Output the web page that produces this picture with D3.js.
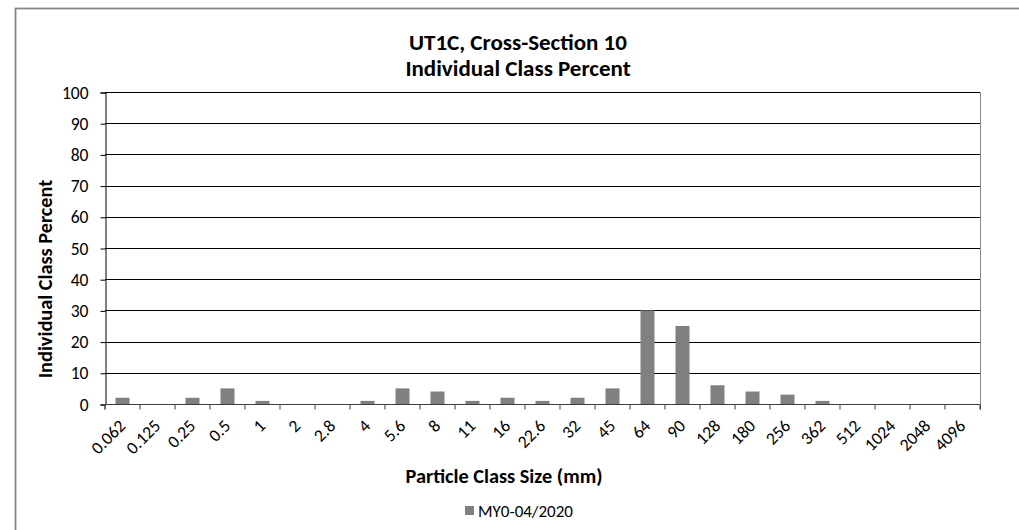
<!DOCTYPE html>
<html><head><meta charset="utf-8">
<script src="https://cdn.jsdelivr.net/npm/d3@7"></script>
<style>
html,body{margin:0;padding:0;background:#fff;}
svg text{font-family:Carlito,Calibri,Lato,"Liberation Sans",sans-serif;fill:#000;}
</style></head><body>
<svg id="c" width="1019" height="530"></svg>
<script>
const categories = ["0.062","0.125","0.25","0.5","1","2","2.8","4","5.6","8","11","16","22.6","32","45","64","90","128","180","256","362","512","1024","2048","4096"];
const values = [2,0,2,5,1,0,0,1,5,4,1,2,1,2,5,30,25,6,4,3,1,0,0,0,0];
const yTicks = [0,10,20,30,40,50,60,70,80,90,100];
const seriesName = "MY0-04/2020";
const titleLines = ["UT1C, Cross-Section 10","Individual Class Percent"];
const xTitle = "Particle Class Size (mm)";
const yTitle = "Individual Class Percent";

const svg = d3.select("#c");
const m = {left:105, right:980, top:92, bottom:404};
const FONT = "Carlito,Calibri,Lato,sans-serif";

// chart border
svg.append("rect").attr("x",15.5).attr("y",8.5).attr("width",1100).attr("height",600)
  .attr("fill","#fff").attr("stroke","#868686").attr("stroke-width",1.8);

const x = d3.scaleBand().domain(categories).range([m.left,m.right]).paddingInner(0.6).paddingOuter(0.3);
const xb = d3.scaleBand().domain(categories).range([m.left,m.right]);
const y = d3.scaleLinear().domain([0,100]).range([m.bottom,m.top]);

// gridlines
svg.append("g").selectAll("line").data(yTicks.filter(d=>d>0)).join("line")
  .attr("x1",m.left).attr("x2",m.right)
  .attr("y1",d=>Math.round(y(d))+0.5).attr("y2",d=>Math.round(y(d))+0.5)
  .attr("stroke","#000").attr("stroke-width",1);

// right plot border
svg.append("line").attr("x1",m.right+0.5).attr("x2",m.right+0.5).attr("y1",m.top).attr("y2",m.bottom)
  .attr("stroke","#868686");

// bars
svg.append("g").selectAll("rect").data(values).join("rect")
  .attr("x",(d,i)=>x(categories[i]))
  .attr("width",x.bandwidth())
  .attr("y",d=>y(d))
  .attr("height",d=>y(0)-y(d))
  .attr("fill","#808080");

// y axis
const ya = svg.append("g").attr("transform",`translate(${m.left+0.5},0.5)`)
  .call(d3.axisLeft(y).tickValues(yTicks).tickSize(5).tickPadding(12).tickFormat(d3.format("d")));
ya.select(".domain").attr("stroke","#000");
ya.selectAll(".tick line").attr("stroke","#000");
ya.selectAll(".tick text").attr("font-size",17.5).attr("font-family",FONT);

// x axis
const xa = svg.append("g").attr("transform",`translate(0,${Math.round(y(0))+0.5})`)
  .call(d3.axisBottom(xb).tickSize(5).tickFormat(""));
xa.select(".domain").attr("stroke","#404040").attr("d",`M${m.left},5V0H${m.right}V5`);
xa.selectAll(".tick line").attr("stroke","#404040").attr("transform",function(){
  return `translate(${-xb.bandwidth()/2},0)`;});
xa.append("line").attr("x1",m.right+0.5).attr("x2",m.right+0.5).attr("y1",0).attr("y2",5).attr("stroke","#404040");

svg.append("g").selectAll("text").data(categories).join("text")
  .attr("transform",d=>`translate(${xb(d)+xb.bandwidth()/2+4},${y(0)+23}) rotate(-45)`)
  .attr("text-anchor","end").attr("font-size",17.5)
  .text(d=>d);

// titles
const tg = svg.append("g");
titleLines.forEach((t,i)=>{
  tg.append("text").attr("x",518).attr("y",50+i*26).attr("text-anchor","middle")
    .attr("font-size",23).attr("font-weight","bold").text(t);
});
svg.append("text").attr("x",504).attr("y",483).attr("text-anchor","middle")
  .attr("font-size",20.3).attr("font-weight","bold").text(xTitle);
svg.append("text").attr("transform",`translate(52,279) rotate(-90)`).attr("text-anchor","middle")
  .attr("font-size",20.3).attr("font-weight","bold").text(yTitle);

// legend
const lg = svg.append("g").attr("transform","translate(465,506)");
lg.append("rect").attr("width",9).attr("height",9).attr("fill","#808080");
lg.append("text").attr("x",13).attr("y",11).attr("font-size",17).text(seriesName);
</script></body></html>
